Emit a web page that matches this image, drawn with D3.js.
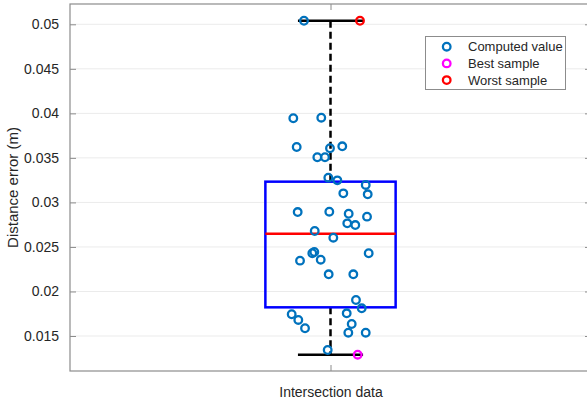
<!DOCTYPE html>
<html>
<head>
<meta charset="utf-8">
<script src="https://cdn.jsdelivr.net/npm/d3@7"></script>
<style>
  html, body { margin: 0; padding: 0; background: #fff; }
  svg { display: block; font-family: "Liberation Sans", Arial, Helvetica, sans-serif; }
</style>
</head>
<body>
<svg id="chart" width="587" height="401"></svg>
<script>
// Category and y-axis ticks
const categories = ["Intersection data"];
const yTicks = [0.015, 0.02, 0.025, 0.03, 0.035, 0.04, 0.045, 0.05];
const yTickLabels = ["0.015", "0.02", "0.025", "0.03", "0.035", "0.04", "0.045", "0.05"];

// Computed distance errors (m) and their horizontal jitter around the category
const computedValues = [
  0.05040,
  0.03945, 0.03951, 0.03622, 0.03608, 0.03630, 0.03507, 0.03507, 0.03278, 0.03248, 0.03196,
  0.03102, 0.03091, 0.02892, 0.02896, 0.02873, 0.02840, 0.02765, 0.02746, 0.02679, 0.02604,
  0.02429, 0.02443, 0.02346, 0.02357, 0.02429,
  0.02193, 0.02193, 0.01904, 0.01811, 0.01744, 0.01680, 0.01587, 0.01755, 0.01635, 0.01537,
  0.01537, 0.01343
];
const computedJitter = [
  -0.0509,
  -0.0714, -0.0177, -0.0649, -0.0010, 0.0226, -0.0253, -0.0106, -0.0042, 0.0131, 0.0676,
  0.0246, 0.0714, -0.0630, -0.0023, 0.0349, 0.0701, 0.0322, 0.0476, -0.0303, 0.0054,
  -0.0349, -0.0311, -0.0585, -0.0188, 0.0733,
  -0.0035, 0.0438, 0.0489, 0.0599, -0.0745, -0.0618, -0.0489, 0.0311, 0.0407, 0.0342,
  0.0676, -0.0054
];
const bestValue = [0.01290];
const bestJitter = [0.0522];
const worstValue = [0.05040];
const worstJitter = [0.0566];

// Box statistics: lower whisker, Q1, median, Q3, upper whisker
const boxStats = [0.01290, 0.01822, 0.02649, 0.03233, 0.05040];

const legendLabels = ["Computed value", "Best sample", "Worst sample"];
const legendColors = ["#0072BD", "#FF00FF", "#FF0000"];

const svg = d3.select("#chart");
const L = 70, R = 591, T = 4, B = 371;
const axisColor = "#8c8c8c";
const textColor = "#262626";

const x = d3.scaleLinear().domain([0.5, 1.5]).range([L, R]);
const y = d3.scaleLinear().domain([0.01107, 0.05228]).range([B, T]);
const boxW = 0.25;

// Horizontal grid lines
svg.append("g").selectAll("line").data(yTicks).join("line")
  .attr("x1", L).attr("x2", R)
  .attr("y1", d => y(d)).attr("y2", d => y(d))
  .attr("stroke", "#ebebeb").attr("stroke-width", 1);

// Y axis (left) with inward ticks
const yAxis = d3.axisLeft(y).tickValues(yTicks)
  .tickFormat((d, i) => yTickLabels[i]).tickSizeInner(-6).tickSizeOuter(0).tickPadding(11);
const gy = svg.append("g").attr("transform", `translate(${L},0)`).call(yAxis);
gy.select(".domain").remove();
gy.selectAll(".tick line").attr("stroke", axisColor);
gy.selectAll(".tick text").attr("fill", textColor).style("font-size", "14px")
  .style("font-family", "'Liberation Sans', Arial, sans-serif");

// Right-side ticks
const yAxisR = d3.axisRight(y).tickValues(yTicks).tickFormat("").tickSizeInner(-6).tickSizeOuter(0);
const gyr = svg.append("g").attr("transform", `translate(${R},0)`).call(yAxisR);
gyr.select(".domain").remove();
gyr.selectAll(".tick line").attr("stroke", axisColor);

// X axis (bottom) with category label
const xAxis = d3.axisBottom(x).tickValues([1]).tickFormat((d, i) => categories[i])
  .tickSizeInner(-6).tickSizeOuter(0).tickPadding(16);
const gx = svg.append("g").attr("transform", `translate(0,${B})`).call(xAxis);
gx.select(".domain").remove();
gx.selectAll(".tick line").attr("stroke", axisColor);
gx.selectAll(".tick text").attr("fill", textColor).style("font-size", "14px")
  .style("font-family", "'Liberation Sans', Arial, sans-serif");

// Top ticks
const gxt = svg.append("g").attr("transform", `translate(0,${T})`)
  .call(d3.axisTop(x).tickValues([1]).tickFormat("").tickSizeInner(-6).tickSizeOuter(0));
gxt.select(".domain").remove();
gxt.selectAll(".tick line").attr("stroke", axisColor);

// Axes frame
svg.append("rect").attr("x", L).attr("y", T).attr("width", R - L).attr("height", B - T)
  .attr("fill", "none").attr("stroke", axisColor).attr("stroke-width", 1.2);

// Y label
svg.append("text")
  .attr("transform", `translate(18,${(T + B) / 2}) rotate(-90)`)
  .attr("text-anchor", "middle").attr("fill", textColor)
  .style("font-size", "15px").text("Distance error (m)");

// Box plot
const cx = 1;
const g = svg.append("g");
const [lw, q1, med, q3, uw] = boxStats;
// dashed whiskers
g.append("line").attr("x1", x(cx)).attr("x2", x(cx)).attr("y1", y(q3)).attr("y2", y(uw))
  .attr("stroke", "#000").attr("stroke-width", 2.5).attr("stroke-dasharray", "7,4");
g.append("line").attr("x1", x(cx)).attr("x2", x(cx)).attr("y1", y(q1)).attr("y2", y(lw))
  .attr("stroke", "#000").attr("stroke-width", 2.5).attr("stroke-dasharray", "7,4");
// whisker caps
[lw, uw].forEach(v => {
  g.append("line").attr("x1", x(cx - boxW / 4)).attr("x2", x(cx + boxW / 4))
    .attr("y1", y(v)).attr("y2", y(v)).attr("stroke", "#000").attr("stroke-width", 2.5);
});
// box
g.append("rect").attr("x", x(cx - boxW / 2)).attr("y", y(q3))
  .attr("width", x(cx + boxW / 2) - x(cx - boxW / 2)).attr("height", y(q1) - y(q3))
  .attr("fill", "none").attr("stroke", "#0000FF").attr("stroke-width", 2.5);
// median
g.append("line").attr("x1", x(cx - boxW / 2)).attr("x2", x(cx + boxW / 2))
  .attr("y1", y(med)).attr("y2", y(med)).attr("stroke", "#FF0000").attr("stroke-width", 2.5);

// Points
const r = 3.8, sw = 2.3;
function drawPoints(vals, jit, color) {
  svg.append("g").selectAll("circle").data(vals).join("circle")
    .attr("cx", (d, i) => x(cx + jit[i])).attr("cy", d => y(d)).attr("r", r)
    .attr("fill", "none").attr("stroke", color).attr("stroke-width", sw);
}
drawPoints(computedValues, computedJitter, legendColors[0]);
drawPoints(bestValue, bestJitter, legendColors[1]);
drawPoints(worstValue, worstJitter, legendColors[2]);

// Legend
const lg = svg.append("g");
lg.append("rect").attr("x", 425.5).attr("y", 36.5).attr("width", 140).attr("height", 53)
  .attr("fill", "#fff").attr("stroke", "#8c8c8c").attr("stroke-width", 1);
legendLabels.forEach((lab, i) => {
  const yy = 46.7 + i * 16.7;
  lg.append("circle").attr("cx", 446.7).attr("cy", yy).attr("r", r)
    .attr("fill", "none").attr("stroke", legendColors[i]).attr("stroke-width", sw);
  lg.append("text").attr("x", 468).attr("y", yy).attr("dy", "0.36em")
    .attr("fill", textColor).style("font-size", "13px").text(lab);
});
</script>
</body>
</html>
